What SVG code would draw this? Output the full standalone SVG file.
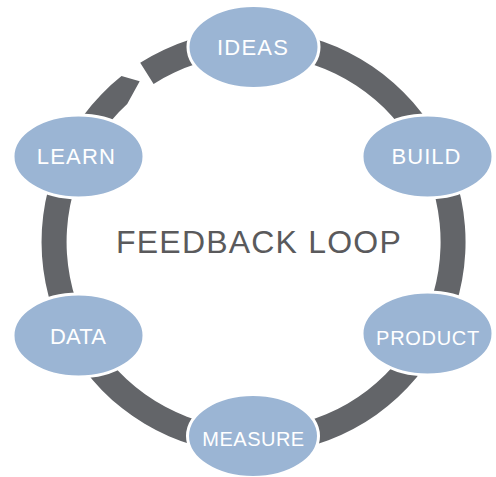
<svg xmlns="http://www.w3.org/2000/svg" width="496" height="477" viewBox="0 0 496 477">
  <style>
    .ring { fill: #636569; }
    .node ellipse { fill: #9bb5d4; stroke: #ffffff; stroke-width: 3; }
    .node text { fill: #ffffff; font-family: "Liberation Sans", Arial, sans-serif; text-anchor: middle; }
    .title { fill: #5a5a5c; font-family: "Liberation Sans", Arial, sans-serif; font-size: 32px; letter-spacing: 1.2px; text-anchor: middle; }
  </style>
  <rect width="496" height="477" fill="#ffffff"/>

  <!-- cycle ring: clockwise band with a gap near IDEAS and a pointed end -->
  <g id="connectors">
    <path class="ring" d="M140.2,62.8 A212,212 0 1 1 121.5,76.1 L139.7,81.2 L127.2,104.1 A187,187 0 1 0 153.6,83.9 Z"/>
  </g>

  <text class="title" x="259" y="253">FEEDBACK LOOP</text>

  <g id="ideas" class="node">
    <ellipse cx="253.5" cy="47" rx="65.5" ry="41.5"/>
    <text x="253" y="55" font-size="22" letter-spacing="1.2">IDEAS</text>
  </g>
  <g id="build" class="node">
    <ellipse cx="427.5" cy="156.5" rx="65.5" ry="41.5"/>
    <text x="426.5" y="164" font-size="22" letter-spacing="1">BUILD</text>
  </g>
  <g id="product" class="node">
    <ellipse cx="427.5" cy="333.5" rx="65.5" ry="41.5"/>
    <text x="428" y="345" font-size="20" letter-spacing="0.7">PRODUCT</text>
  </g>
  <g id="measure" class="node">
    <ellipse cx="253" cy="436" rx="65.5" ry="41.5"/>
    <text x="253.5" y="446" font-size="20" letter-spacing="0.5">MEASURE</text>
  </g>
  <g id="data" class="node">
    <ellipse cx="78.5" cy="335.5" rx="65.5" ry="41.5"/>
    <text x="78" y="344" font-size="22" letter-spacing="0.2">DATA</text>
  </g>
  <g id="learn" class="node">
    <ellipse cx="78.5" cy="156.5" rx="65.5" ry="41.5"/>
    <text x="76.5" y="164" font-size="22" letter-spacing="1.2">LEARN</text>
  </g>
</svg>
